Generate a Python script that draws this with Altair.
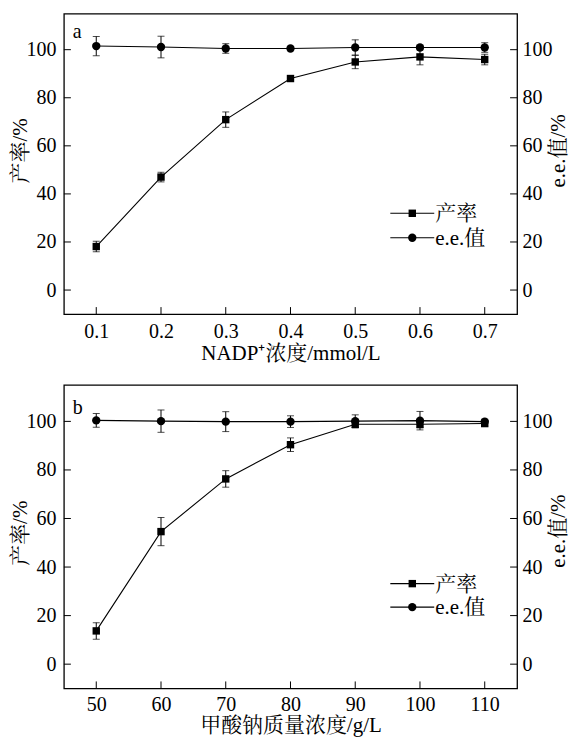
import altair as alt
import pandas as pd

FONT = "Liberation Serif, Noto Serif CJK SC, Noto Sans CJK SC, serif"

# ---------------- data ----------------
series_names = ["产率", "e.e.值"]
series_shapes = ["square", "circle"]
y_tick_values = [0, 20, 40, 60, 80, 100]

# panel a : NADP+ concentration
nadp = [0.1, 0.2, 0.3, 0.4, 0.5, 0.6, 0.7]
yield_a = [18.1, 47.0, 70.9, 88.0, 94.9, 97.0, 95.9]
yield_a_err = [2.2, 2.0, 3.2, 1.0, 2.8, 3.3, 2.2]
ee_a = [101.5, 101.1, 100.5, 100.5, 100.9, 100.9, 100.9]
ee_a_err = [4.0, 4.5, 2.0, 0.6, 3.2, 1.0, 2.0]

# panel b : sodium formate concentration
formate = [50, 60, 70, 80, 90, 100, 110]
yield_b = [13.7, 54.6, 76.3, 90.4, 98.8, 98.8, 99.1]
yield_b_err = [3.4, 5.8, 3.4, 2.8, 1.5, 1.5, 1.0]
ee_b = [100.4, 100.1, 99.9, 99.9, 100.1, 100.3, 99.9]
ee_b_err = [2.8, 4.6, 4.1, 2.4, 2.6, 3.8, 1.0]


def frame(xs, vs, es, name):
    return pd.DataFrame({
        "x": xs, "v": vs,
        "lo": [v - e for v, e in zip(vs, es)],
        "hi": [v + e for v, e in zip(vs, es)],
        "series": name,
    })


def panel(xs, yv, ye, ev, ee, xdomain, xfmt, xtitle, letter, W, H,
          leg_x, leg_rows, letter_y, tyl, tyr, label_pad, title_pad):
    dy = frame(xs, yv, ye, series_names[0])
    de = frame(xs, ev, ee, series_names[1])
    dticks_y = pd.DataFrame({"t": y_tick_values})
    dticks_x = pd.DataFrame({"x": xs})

    X = alt.X("x:Q", scale=alt.Scale(domain=xdomain, nice=False, zero=False),
              axis=alt.Axis(values=xs, format=xfmt, title=xtitle, domain=False,
                            ticks=False, tickSize=0, grid=False, labelPadding=label_pad,
                            titlePadding=title_pad, labelFontSize=20, titleFontSize=21,
                            labelFont=FONT, titleFont=FONT, labelColor="black",
                            titleColor="black", titleFontWeight="normal",
                            labelFlush=False))
    ysc = alt.Scale(domain=[-10, 115], nice=False, zero=False)

    def Y(field, axis=None):
        return alt.Y(field, type="quantitative", scale=ysc, axis=axis)

    left_axis = alt.Axis(values=y_tick_values, orient="left", title="产率/%",
                         domain=False, ticks=False, tickSize=0, grid=False,
                         labelPadding=8, labelFontSize=20, titleFontSize=21,
                         labelFont=FONT, titleFont=FONT, labelColor="black",
                         titleColor="black", titleFontWeight="normal",
                         titleAngle=270, titleX=-43, titleY=tyl,
                         titleAlign="center", titleBaseline="middle")
    right_axis = alt.Axis(values=y_tick_values, orient="right", title="e.e.值/%",
                          domain=False, ticks=False, tickSize=0, grid=False,
                          labelPadding=5, labelFontSize=20, titleFontSize=21,
                          labelFont=FONT, titleFont=FONT, labelColor="black",
                          titleColor="black", titleFontWeight="normal",
                          titleAngle=270, titleX=41, titleY=tyr,
                          titleAlign="center", titleBaseline="middle")

    by = alt.Chart(dy)
    be = alt.Chart(de)
    layers = [
        by.mark_line(color="black", strokeWidth=1.1).encode(x=X, y=Y("v", left_axis)),
        be.mark_line(color="black", strokeWidth=1.1).encode(x=X, y=Y("v", right_axis)),
    ]
    for b in (by, be):
        layers += [
            b.mark_rule(color="black", strokeWidth=1).encode(x=X, y=Y("lo"), y2="hi"),
            b.mark_tick(orient="horizontal", size=7, thickness=1, color="black").encode(x=X, y=Y("lo")),
            b.mark_tick(orient="horizontal", size=7, thickness=1, color="black").encode(x=X, y=Y("hi")),
        ]
    layers += [
        by.mark_point(shape="square", filled=True, size=55, color="black", opacity=1).encode(x=X, y=Y("v")),
        be.mark_point(shape="circle", filled=True, size=70, color="black", opacity=1).encode(x=X, y=Y("v")),
        # inward tick marks
        alt.Chart(dticks_y).mark_rule(color="black", strokeWidth=1).encode(
            y=Y("t"), x=alt.value(0), x2=alt.value(7)),
        alt.Chart(dticks_y).mark_rule(color="black", strokeWidth=1).encode(
            y=Y("t"), x=alt.value(W - 7), x2=alt.value(W)),
        alt.Chart(dticks_x).mark_rule(color="black", strokeWidth=1).encode(
            x=X, y=alt.value(H - 7), y2=alt.value(H)),
        alt.Chart(pd.DataFrame({"t": [letter]})).mark_text(
            font=FONT, fontSize=20, color="black", align="left", baseline="alphabetic"
        ).encode(text="t:N", x=alt.value(9), y=alt.value(letter_y)),
    ]
    # legend (line + marker + label)
    for name, shp, ry in zip(series_names, series_shapes, leg_rows):
        ld = alt.Chart(pd.DataFrame({"t": [name]}))
        layers += [
            ld.mark_rule(color="black", strokeWidth=1.1).encode(
                x=alt.value(leg_x), x2=alt.value(leg_x + 44), y=alt.value(ry)),
            ld.mark_point(shape=shp, filled=True, size=55 if shp == "square" else 70,
                          color="black", opacity=1).encode(
                x=alt.value(leg_x + 22), y=alt.value(ry)),
            ld.mark_text(font=FONT, fontSize=21, color="black", align="left",
                         baseline="middle").encode(
                text="t:N", x=alt.value(leg_x + 45), y=alt.value(ry + 1)),
        ]
    return alt.layer(*layers).resolve_scale(y="independent").properties(width=W, height=H)


pa = panel(nadp, yield_a, yield_a_err, ee_a, ee_a_err, [0.05, 0.75], ".1f",
           "NADP⁺浓度/mmol/L", "a", 454, 301, 327, [200, 224.5], 24, 137, 137, 7, 1)
pb = panel(formate, yield_b, yield_b_err, ee_b, ee_b_err, [45, 115], "d",
           "甲酸钠质量浓度/g/L", "b", 454, 304, 327, [199, 222.5], 29, 148, 146, 6, 0)

chart = alt.vconcat(pa, pb, spacing=20).properties(
    padding={"left": 9, "top": 12, "right": 0, "bottom": 0},
    background="white",
).configure_view(stroke="black", strokeWidth=1.3)

chart.save("out.html", embed_options={"renderer": "svg", "actions": False})
